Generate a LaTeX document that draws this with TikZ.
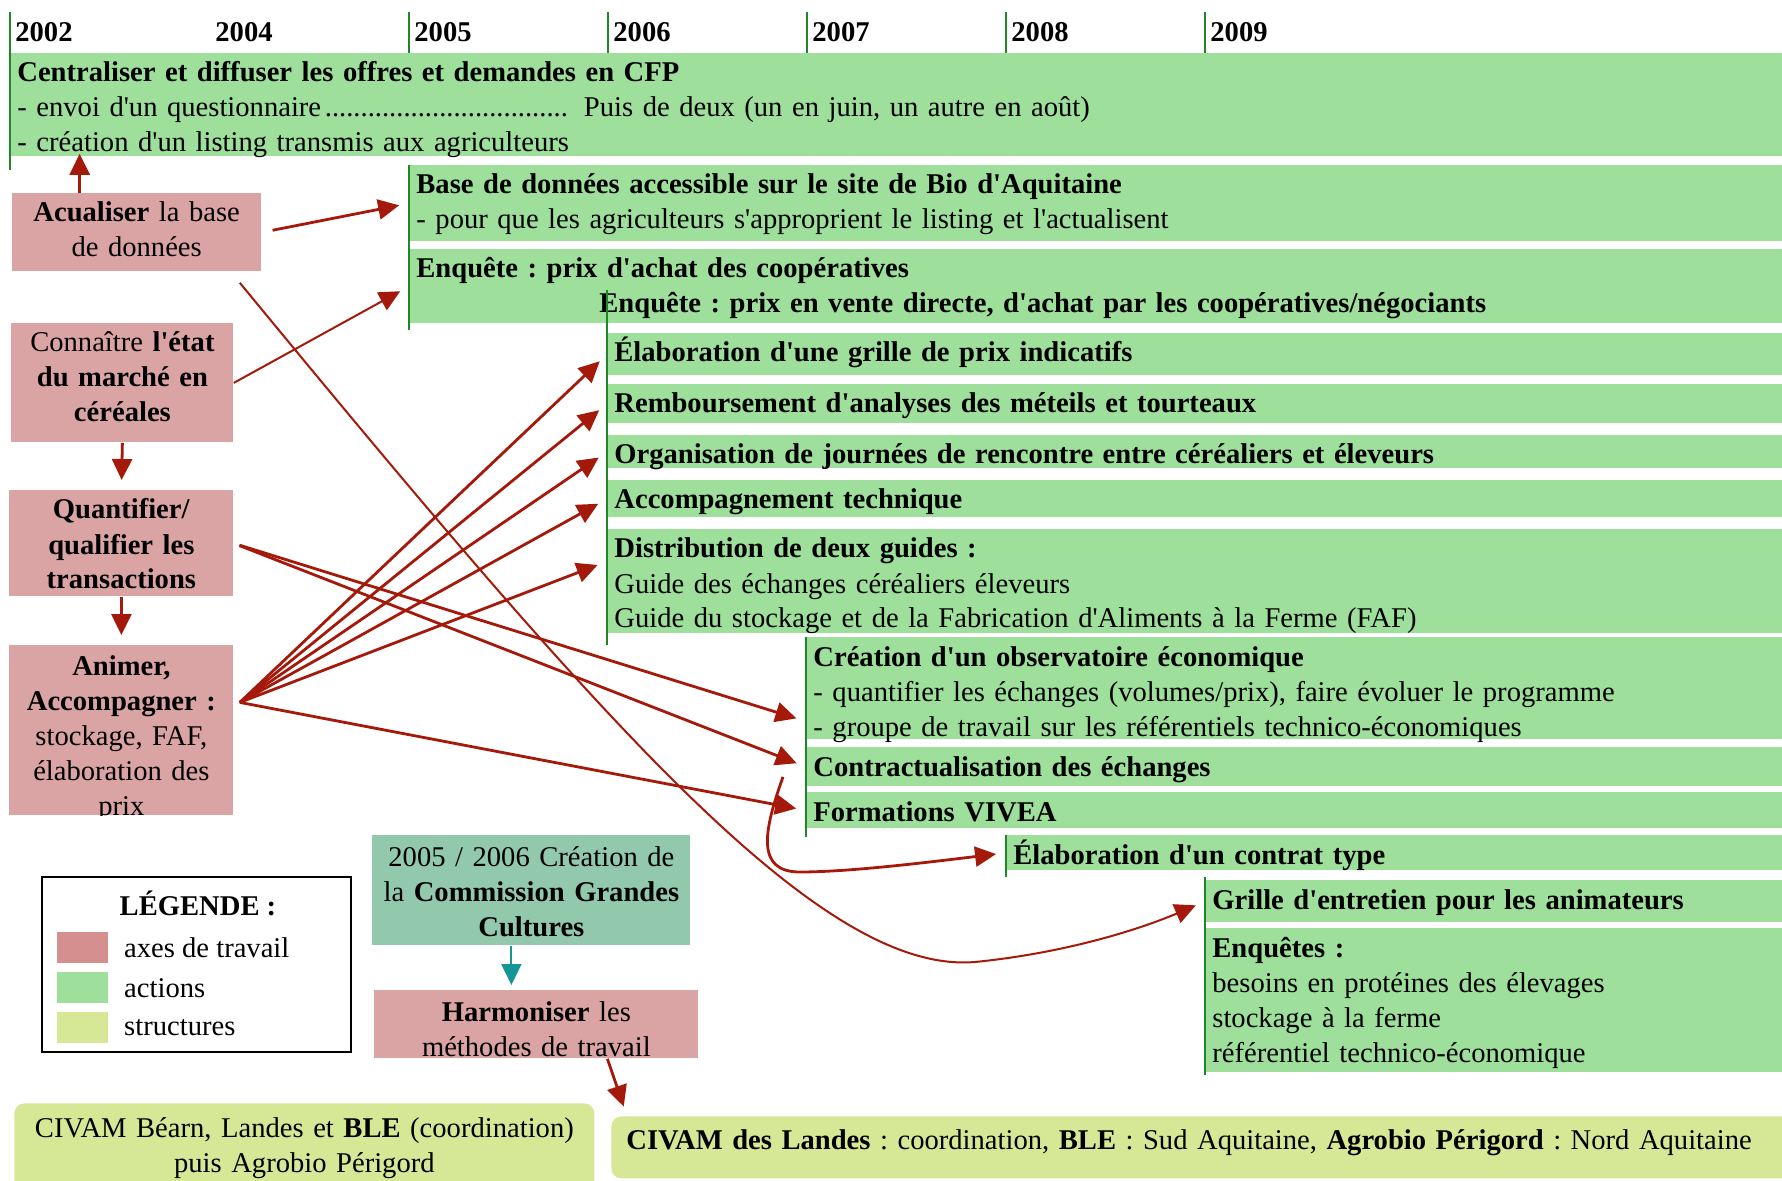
\documentclass[tikz,border=0pt]{standalone}
\usepackage{fontspec}
\setmainfont{Liberation Serif}[Ligatures=TeXOff]
\usetikzlibrary{arrows.meta,positioning}
\definecolor{actgreen}{RGB}{157,223,155}
\definecolor{axpink}{RGB}{218,164,164}
\definecolor{axpinkdark}{RGB}{213,143,143}
\definecolor{strucyellow}{RGB}{214,232,150}
\definecolor{commteal}{RGB}{146,201,172}
\definecolor{arrred}{RGB}{165,25,10}
\definecolor{arrteal}{RGB}{20,150,150}
\definecolor{tickgreen}{RGB}{30,135,40}
\newcommand\dotlead{\leaders\hbox{.}\hfill}
\frenchspacing

\begin{document}
\begin{tikzpicture}
        [
            x = 0.5pt, y = -0.5pt,
            every node/.style={font=\fontsize{14.3}{17.5}\selectfont},
            yearlbl/.style={anchor=west, inner sep=0pt},
            yline/.style={draw=tickgreen, line width=0.8pt},
            actbar/.style={fill=actgreen, anchor=north west, inner xsep=3.5pt, inner ysep=0pt, align=left, text width=#1, text height=14.3pt},
            axbox/.style={fill=axpink, anchor=north west, inner sep=0pt, align=center, text width=#1, text height=14.3pt},
            strbox/.style={fill=strucyellow, anchor=north west, rounded corners=5pt, inner sep=0pt},
            swatch/.style={anchor=north west, minimum width=25.5pt, minimum height=15.5pt, inner sep=0pt},
            arr/.style={draw=arrred, line width=1.4pt, -{Triangle[length=10.5pt,width=10pt]}, shorten >=5pt},
            thinarr/.style={line width=1pt},
        ]
        \useasboundingbox (0,0) rectangle (1782,1181);

        \node[yearlbl] (y2002) at (15,32) {\textbf{2002}};
        \node[yearlbl] (y2004) at (215,32) {\textbf{2004}};
        \node[yearlbl] (y2005) at (414,32) {\textbf{2005}};
        \node[yearlbl] (y2006) at (613,32) {\textbf{2006}};
        \node[yearlbl] (y2007) at (812,32) {\textbf{2007}};
        \node[yearlbl] (y2008) at (1011,32) {\textbf{2008}};
        \node[yearlbl] (y2009) at (1210,32) {\textbf{2009}};

        \node[actbar=879pt, text depth=37.2pt] (b1) at (10,53) {
            \textbf{Centraliser et diffuser les offres et demandes en CFP}\\
            \makebox[278.5pt][l]{- envoi d'un questionnaire\dotlead} Puis de deux (un en juin, un autre en août)\\
            - création d'un listing transmis aux agriculteurs};
        \node[actbar=679.5pt, text depth=23.7pt] (b2) at (409,165) {
            \textbf{Base de données accessible sur le site de Bio d'Aquitaine}\\
            - pour que les agriculteurs s'approprient le listing et l'actualisent};
        \node[actbar=679.5pt, text depth=22.7pt] (b3) at (409,249) {
            \textbf{Enquête : prix d'achat des coopératives}\\
            \hspace*{91.5pt}\textbf{Enquête : prix en vente directe, d'achat par les coopératives/négociants}};
        \node[actbar=580.5pt, text depth=6.7pt] (b4) at (607,333) {\textbf{Élaboration d'une grille de prix indicatifs}};
        \node[actbar=580.5pt, text depth=5.2pt] (b5) at (607,384) {\textbf{Remboursement d'analyses des méteils et tourteaux}};
        \node[actbar=580.5pt, text depth=2.2pt] (b6) at (607,435) {\textbf{Organisation de journées de rencontre entre céréaliers et éleveurs}};
        \node[actbar=580.5pt, text depth=4.2pt] (b7) at (607,480) {\textbf{Accompagnement technique}};
        \node[actbar=580.5pt, text depth=37.7pt] (b8) at (607,529) {
            \textbf{Distribution de deux guides :}\\
            Guide des échanges céréaliers éleveurs\\
            Guide du stockage et de la Fabrication d'Aliments à la Ferme (FAF)};
        \node[actbar=481pt, text depth=36.7pt] (b9) at (806,637) {
            \textbf{Création d'un observatoire économique}\\
            - quantifier les échanges (volumes/prix), faire évoluer le programme\\
            - groupe de travail sur les référentiels technico-économiques};
        \node[actbar=481pt, text depth=5.2pt] (b10) at (806,747) {\textbf{Contractualisation des échanges}};
        \node[actbar=481pt, text depth=3.7pt] (b11) at (806,792) {\textbf{Formations VIVEA}};
        \node[actbar=381pt, text depth=3.2pt] (b12) at (1006,835) {\textbf{Élaboration d'un contrat type}};
        \node[actbar=281.5pt, text depth=6.7pt] (b13) at (1205,880) {\textbf{Grille d'entretien pour les animateurs}};
        \node[actbar=281.5pt, text depth=57.7pt] (b14) at (1205,928) {
            \textbf{Enquêtes :}\\
            besoins en protéines des élevages\\
            stockage à la ferme\\
            référentiel technico-économique};

        \draw[yline] (10,12) -- (10,170);
        \draw[yline] (409,12) -- (409,53);
        \draw[yline] (608,12) -- (608,53);
        \draw[yline] (807,12) -- (807,53);
        \draw[yline] (1006,12) -- (1006,53);
        \draw[yline] (1205,12) -- (1205,53);
        \draw[yline] (409,165) -- (409,330);
        \draw[yline] (607,290) -- (607,645);
        \draw[yline] (806,637) -- (806,837);
        \draw[yline] (1006,835) -- (1006,877);
        \draw[yline] (1205,877) -- (1205,1075);

        \node[axbox=124.75pt, text depth=24.7pt] (box1) at (11.5,193) {\textbf{Acualiser} la base\\de données};
        \node[axbox=111pt, text depth=45.2pt] (box2) at (11,323) {Connaître \textbf{l'état}\\\textbf{du marché en}\\\textbf{céréales}};
        \node[axbox=112pt, text depth=38.7pt] (box3) at (9,490) {\textbf{Quantifier/}\\\textbf{qualifier les}\\\textbf{transactions}};
        \begin{scope}
            \clip (9,645) rectangle (233,815);
            \node[axbox=112pt, text height=15pt, text depth=70pt] (box4) at (9,645) {\textbf{Animer,}\\\textbf{Accompagner :}\\stockage, FAF,\\élaboration des\\prix};
        \end{scope}
        \node[axbox=159pt, fill=commteal, text height=15.3pt, text depth=39.7pt] (comm) at (372,835) {2005 / 2006 Création de\\la \textbf{Commission Grandes}\\\textbf{Cultures}};
        \node[axbox=162pt, text height=15.3pt, text depth=18.7pt] (harm) at (374,990) {\textbf{Harmoniser} les\\méthodes de travail};

        \node[draw, line width=1.2pt, anchor=north west, minimum width=154.5pt, minimum height=87.5pt, inner sep=0pt] (legend) at (41,876) {};
        \node (legtitle) at (198,903) {\textbf{LÉGENDE :}};
        \node[swatch, fill=axpinkdark] (swaxes) at (57,932) {};
        \node[swatch, fill=actgreen] (swact) at (57,972) {};
        \node[swatch, fill=strucyellow] (swstr) at (57,1012) {};
        \node[inner sep=0pt, right=7.5pt of swaxes] (lblaxes) {axes de travail};
        \node[inner sep=0pt, right=7.5pt of swact] (lblact) {actions};
        \node[inner sep=0pt, right=7.5pt of swstr] (lblstr) {structures};

        \node[strbox, text width=290pt, align=center, text height=17pt, text depth=26.5pt] (str1) at (14,1103) {CIVAM Béarn, Landes et \textbf{BLE} (coordination)\\puis Agrobio Périgord};
        \node[strbox, text width=600pt, inner xsep=7.5pt, align=left, text height=16.5pt, text depth=14.5pt] (str2) at (611,1116) {\textbf{CIVAM des Landes} : coordination, \textbf{BLE} : Sud Aquitaine, \textbf{Agrobio Périgord} : Nord Aquitaine};

        \coordinate (upstart) at ([xshift=-28.5pt]box1.north);
        \coordinate (animout) at ([shift={(6,-28)}]box4.east);
        \coordinate (curvestart) at ([shift={(-22,11)}]box1.south east);
        \coordinate (contratstart) at ([shift={(-23,10)}]b10.west);
        \coordinate (commout) at ([xshift=-10pt]comm.south);
        \coordinate (harmout) at ([xshift=35.5pt]harm.south);

        \draw[arr, shorten >=-1.5pt] (upstart) -- (upstart |- b1.south);
        \draw[arr, shorten <=5.5pt] (box1.east) -- (b2.west);
        \draw[arr, thinarr] (box2.east) -- (b3.west);
        \draw[arr] (box2.south) -- (box3.north);
        \draw[arr] (box3.south) -- (box4.north);
        \draw[arr] (animout) -- (b4.west);
        \draw[arr] (animout) -- (b5.west);
        \draw[arr] (animout) -- (b6.west);
        \draw[arr] (animout) -- (b7.west);
        \draw[arr] (animout) -- ([yshift=10pt]b8.west);
        \draw[arr] (animout) -- (b11.west);
        \draw[arr, shorten <=3pt] (box3.east) -- ([yshift=-16.5pt]b9.west);
        \draw[arr, shorten <=3pt] (box3.east) -- (b10.west);
        \draw[arr, thinarr] (curvestart) .. controls (600,720) and (820,975) .. (975,962) .. controls (1075,952) and (1150,925) .. (b13.west);
        \draw[arr] (contratstart) .. controls (764,830) and (755,872) .. (800,872) .. controls (850,872) and (930,862) .. (b12.west);
        \draw[arr, draw=arrteal, line width=1pt, shorten >=2.5pt] (commout) -- (commout |- harm.north);
        \draw[arr] (harmout) -- ([xshift=8pt]str2.north west);
\end{tikzpicture}
\end{document}
